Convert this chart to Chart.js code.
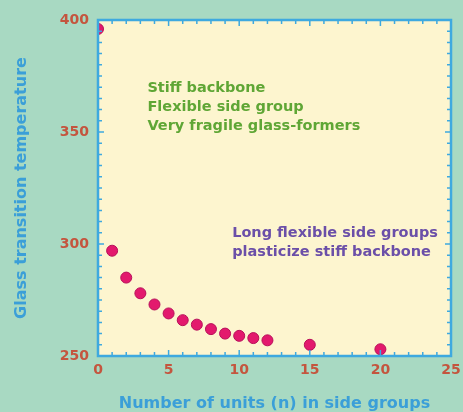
<!DOCTYPE html>
<html>
<head>
<meta charset="utf-8">
<script src="https://cdn.jsdelivr.net/npm/chart.js@4/dist/chart.umd.min.js"></script>
<style>
  html, body { margin: 0; padding: 0; background: #a8d9c2; }
  #wrap { width: 463px; height: 412px; }
</style>
</head>
<body>
<div id="wrap"><canvas id="myChart"></canvas></div>
<script>
// side group length n and glass transition temperature
var units = [0, 1, 2, 3, 4, 5, 6, 7, 8, 9, 10, 11, 12, 15, 20];
var tg = [396, 297, 285, 278, 273, 269, 266, 264, 262, 260, 259, 258, 257, 255, 253];

var xTicks = [0, 5, 10, 15, 20, 25];
var yTicks = [250, 300, 350, 400];

var noteGreen = ['Stiff backbone', 'Flexible side group', 'Very fragile glass-formers'];
var notePurple = ['Long flexible side groups', 'plasticize stiff backbone'];

var points = units.map(function (n, i) { return { x: n, y: tg[i] }; });

// cream plot area, blue frame with inward ticks, text notes
var framePlugin = {
  id: 'frame',
  beforeDraw: function (chart) {
    var a = chart.chartArea, c = chart.ctx;
    c.save();
    c.fillStyle = '#fdf5cf';
    c.fillRect(a.left, a.top, a.right - a.left, a.bottom - a.top);
    c.restore();
  },
  afterDatasetsDraw: function (chart) {
    var a = chart.chartArea, c = chart.ctx;
    var xs = chart.scales.x, ys = chart.scales.y;
    c.save();
    c.strokeStyle = '#3ea9df';
    c.lineWidth = 1.5;
    for (var v = 1; v < 25; v++) {
      var px = xs.getPixelForValue(v);
      var len = v % 5 === 0 ? 6 : 4;
      c.beginPath();
      c.moveTo(px, a.bottom); c.lineTo(px, a.bottom - len);
      c.moveTo(px, a.top); c.lineTo(px, a.top + len);
      c.stroke();
    }
    for (var t = 255; t < 400; t += 5) {
      var py = ys.getPixelForValue(t);
      var l2 = t % 50 === 0 ? 6 : 4;
      c.beginPath();
      c.moveTo(a.left, py); c.lineTo(a.left + l2, py);
      c.moveTo(a.right, py); c.lineTo(a.right - l2, py);
      c.stroke();
    }
    c.lineWidth = 2.5;
    c.strokeRect(a.left, a.top, a.right - a.left, a.bottom - a.top);

    c.font = 'bold 14.5px "DejaVu Sans"';
    c.textBaseline = 'middle';
    c.fillStyle = '#5fa635';
    var gx = xs.getPixelForValue(3.5);
    noteGreen.forEach(function (s, i) {
      c.fillText(s, gx, ys.getPixelForValue(369.5) + i * 19);
    });
    c.fillStyle = '#6b4fa8';
    var px2 = xs.getPixelForValue(9.5);
    notePurple.forEach(function (s, i) {
      c.fillText(s, px2, ys.getPixelForValue(305) + i * 19);
    });
    c.restore();
  }
};

var tickFont = { family: 'DejaVu Sans', weight: 'bold', size: 14 };
var titleFont = { family: 'DejaVu Sans', weight: 'bold', size: 16 };

var ctx = document.getElementById('myChart').getContext('2d');
new Chart(ctx, {
  type: 'scatter',
  data: {
    datasets: [{
      label: 'Tg',
      data: points,
      pointRadius: 5.5,
      pointHoverRadius: 5.5,
      backgroundColor: '#e3196d',
      borderColor: '#b8105a',
      borderWidth: 1
    }]
  },
  options: {
    responsive: true,
    maintainAspectRatio: false,
    animation: false,
    layout: { padding: { top: 20, right: 12, left: 0, bottom: 0 } },
    plugins: { legend: { display: false }, tooltip: { enabled: false } },
    scales: {
      x: {
        type: 'linear',
        min: 0, max: 25,
        afterBuildTicks: function (s) { s.ticks = xTicks.map(function (v) { return { value: v }; }); },
        afterFit: function (s) { s.height = 56; s.paddingRight = 0; s.paddingLeft = 0; },
        grid: { display: false, drawTicks: false },
        border: { display: false },
        ticks: { color: '#c4553e', font: tickFont, padding: 6 },
        title: {
          display: true,
          text: 'Number of units (n) in side groups',
          color: '#3b9fd8',
          font: titleFont,
          padding: { top: 16, bottom: -1 }
        }
      },
      y: {
        type: 'linear',
        min: 250, max: 400,
        afterBuildTicks: function (s) { s.ticks = yTicks.map(function (v) { return { value: v }; }); },
        afterFit: function (s) { s.width = 98; s.paddingTop = 0; s.paddingBottom = 0; },
        grid: { display: false, drawTicks: false },
        border: { display: false },
        ticks: { color: '#c4553e', font: tickFont, padding: 9 },
        title: {
          display: true,
          text: 'Glass transition temperature',
          color: '#3b9fd8',
          font: titleFont,
          padding: { top: 12, bottom: 0 }
        }
      }
    }
  },
  plugins: [framePlugin]
});
</script>
</body>
</html>
